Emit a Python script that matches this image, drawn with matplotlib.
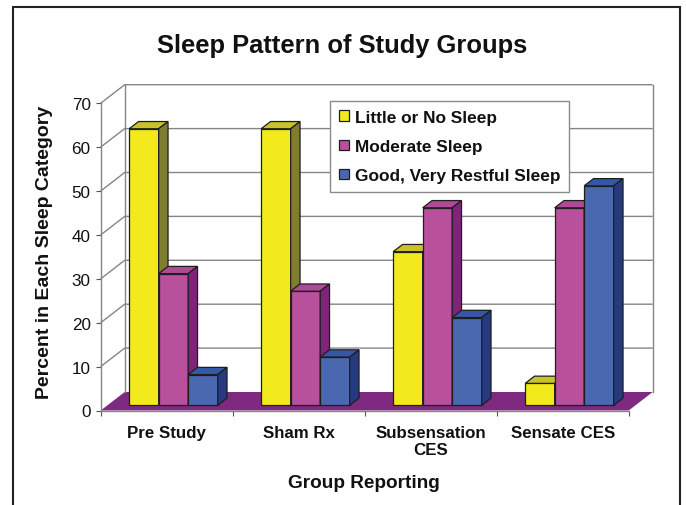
import matplotlib
matplotlib.use("Agg")
import matplotlib.pyplot as plt
from matplotlib.patches import Polygon, Rectangle, Patch

plt.rcParams['font.family'] = ['Liberation Sans', 'DejaVu Sans']

# ---- data ----
categories = ["Pre Study", "Sham Rx", "Subsensation\nCES", "Sensate CES"]
series_names = ["Little or No Sleep", "Moderate Sleep", "Good, Very Restful Sleep"]
little_or_no_sleep = [63, 63, 35, 5]
moderate_sleep = [30, 26, 45, 45]
good_restful_sleep = [7, 11, 20, 50]
y_ticks = [0, 10, 20, 30, 40, 50, 60, 70]

# ---- styling ----
face_colors = ["#F2EA1C", "#B8509C", "#4A68B0"]
top_colors = ["#C9C22C", "#B04A98", "#3656A8"]
side_colors = ["#7E7D30", "#7E2579", "#263A80"]
floor_color = "#7D2A80"
grid_color = "#858585"
edge_color = "#1E1E1E"
text_color = "#111111"

W, H = 686, 506
fig = plt.figure(figsize=(W / 100, H / 100), dpi=100)

# axes frame in pixels: left edge, floor line, category width, px per unit
X0, Y0, CW, VS = 100.7, 411.5, 132.0, 4.39
ymax = y_ticks[-1]
n = len(categories)
ax = fig.add_axes([X0 / W, (H - Y0) / H, n * CW / W, ymax * VS / H])
ax.set_xlim(0, n)
ax.set_ylim(0, ymax)
ax.patch.set_visible(False)

# depth vector of the 3-D box, in data units
DX = 24.0 / CW
DY = 18.5 / VS

# back wall and floor
ax.add_patch(Polygon([(DX, DY), (n + DX, DY), (n + DX, ymax + DY), (DX, ymax + DY)],
                     closed=True, fc="white", ec="none", zorder=0.5, clip_on=False))
ax.add_patch(Polygon([(0, 0), (n, 0), (n + DX, DY), (DX, DY)],
                     closed=True, fc=floor_color, ec="none", zorder=1, clip_on=False))

# gridlines running along side wall and back wall
for v in y_ticks[1:]:
    ax.plot([0, DX, n + DX], [v, v + DY, v + DY], color=grid_color, lw=1.0,
            zorder=1.5, clip_on=False, solid_capstyle="butt")
for xe in (DX, n + DX):
    ax.plot([xe, xe], [DY, ymax + DY], color=grid_color, lw=1.0, zorder=1.5, clip_on=False)

# spines / ticks
for s in ("top", "right"):
    ax.spines[s].set_visible(False)
for s in ("left", "bottom"):
    ax.spines[s].set_color(grid_color)
    ax.spines[s].set_linewidth(1.0)
ax.set_yticks(y_ticks)
ax.set_yticklabels([str(t) for t in y_ticks])
ax.tick_params(axis="y", direction="out", length=3.6, width=0.8, color="#555555",
               pad=3.6, labelsize=12.3, labelcolor=text_color)
ax.set_xticks(range(n + 1))
ax.set_xticklabels([""] * (n + 1))
ax.tick_params(axis="x", which="major", direction="out", length=3.6, width=0.8, color="#555555")
ax.set_xticks([i + 0.5 for i in range(n)], minor=True)
ax.set_xticklabels(categories, minor=True, fontsize=12.2, fontweight="bold",
                   color=text_color, linespacing=1.15)
ax.tick_params(axis="x", which="minor", length=0, pad=10.5)

# 3-D bars
series = [little_or_no_sleep, moderate_sleep, good_restful_sleep]
bw = 0.2235
f0, f1 = 0.28, 0.67
ddx, ddy = (f1 - f0) * DX, (f1 - f0) * DY
for j, vals in enumerate(series):
    z = 3 + j
    lefts = [i + 0.5 - 1.5 * bw + j * bw + f0 * DX for i in range(n)]
    ax.bar(lefts, vals, width=bw, bottom=f0 * DY, align="edge",
           color=face_colors[j], edgecolor=edge_color, linewidth=0.9, zorder=z, clip_on=False)
    for xl, v in zip(lefts, vals):
        xr = xl + bw
        yb, yt = f0 * DY, v + f0 * DY
        ax.add_patch(Polygon([(xl, yt), (xr, yt), (xr + ddx, yt + ddy), (xl + ddx, yt + ddy)],
                             closed=True, fc=top_colors[j], ec=edge_color, lw=0.9,
                             zorder=z, clip_on=False))
        ax.add_patch(Polygon([(xr, yb), (xr + ddx, yb + ddy), (xr + ddx, yt + ddy), (xr, yt)],
                             closed=True, fc=side_colors[j], ec=edge_color, lw=0.9,
                             zorder=z, clip_on=False))

# legend
handles = [Patch(facecolor=face_colors[j], edgecolor=edge_color, linewidth=0.9,
                 label=series_names[j]) for j in range(3)]
leg = fig.legend(handles=handles, loc="upper left",
                 bbox_to_anchor=(330 / W, 1 - 102.3 / H), borderaxespad=0,
                 prop={"size": 12.4, "weight": "bold"}, handlelength=0.58, handleheight=0.58,
                 handletextpad=0.35, labelspacing=0.82, borderpad=0.5, fancybox=False,
                 framealpha=1, edgecolor="#8A8A8A")
leg.get_frame().set_linewidth(1.0)
for t in leg.get_texts():
    t.set_color(text_color)

# titles
fig.text(342.5 / W, 1 - 52.7 / H, "Sleep Pattern of Study Groups", ha="center",
         va="baseline", fontsize=18.4, fontweight="bold", color=text_color)
fig.text(45 / W, 1 - 252 / H, "Percent in Each Sleep Category", ha="center", va="center",
         rotation=90, fontsize=14, fontweight="bold", color=text_color)
fig.text(364 / W, 1 - 488.5 / H, "Group Reporting", ha="center", va="baseline",
         fontsize=13.7, fontweight="bold", color=text_color)

# outer chart border
fig.patches.append(Rectangle((13.3 / W, -0.05), (679.7 - 13.3) / W, 1.05 - 8.3 / H,
                             transform=fig.transFigure, fill=False, ec="#222222", lw=1.5))

fig.savefig("out.png", dpi=100)
